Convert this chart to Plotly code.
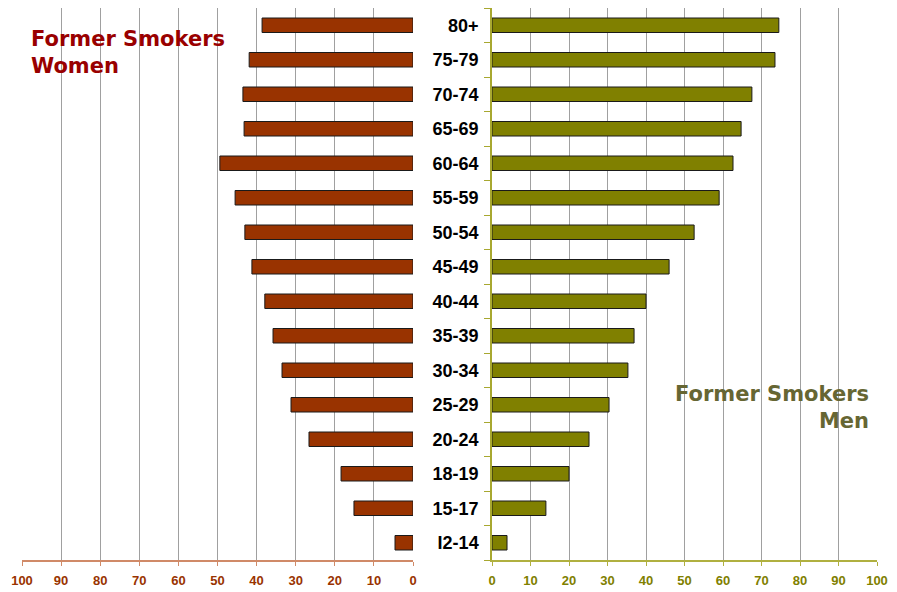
import plotly.graph_objects as go

age_groups = ["80+", "75-79", "70-74", "65-69", "60-64", "55-59", "50-54", "45-49",
              "40-44", "35-39", "30-34", "25-29", "20-24", "18-19", "15-17", "I2-14"]
women = [38.6, 41.9, 43.5, 43.2, 49.4, 45.5, 43.0, 41.2, 37.9, 35.8, 33.5, 31.2, 26.6, 18.4, 15.1, 4.6]
men = [74.5, 73.5, 67.5, 64.7, 62.6, 59.0, 52.5, 46.0, 40.0, 36.9, 35.3, 30.4, 25.2, 20.0, 14.0, 3.9]
x_ticks = [0, 10, 20, 30, 40, 50, 60, 70, 80, 90, 100]

# bottom-to-top order for plotly category axis
cats = age_groups[::-1]
w_vals = women[::-1]
m_vals = men[::-1]

W_COL = "#993300"
M_COL = "#808000"

fig = go.Figure()
fig.add_trace(go.Bar(y=cats, x=w_vals, orientation="h", xaxis="x", yaxis="y",
                     marker=dict(color=W_COL, line=dict(color="#1a1a1a", width=1)),
                     width=0.42, showlegend=False, hoverinfo="x+y"))
fig.add_trace(go.Bar(y=cats, x=m_vals, orientation="h", xaxis="x2", yaxis="y2",
                     marker=dict(color=M_COL, line=dict(color="#1a1a1a", width=1)),
                     width=0.42, showlegend=False, hoverinfo="x+y"))

W, H = 897, 592
ml, mr, mt, mb = 22, 20, 8, 32
pw = W - ml - mr
ph = H - mt - mb
left_end = (413 - ml) / pw
right_start = (492 - ml) / pw

tickfont_w = dict(family="Liberation Sans, Arial", size=13, color=W_COL)
tickfont_m = dict(family="Liberation Sans, Arial", size=13, color=M_COL)

fig.update_layout(
    width=W, height=H,
    margin=dict(l=ml, r=mr, t=mt, b=mb, autoexpand=False),
    paper_bgcolor="white", plot_bgcolor="white",
    bargap=0.5,
    xaxis=dict(domain=[0, left_end], range=[100, 0], anchor="y",
               tickvals=x_ticks, ticktext=[f"<b>{v}</b>" for v in x_ticks],
               tickfont=tickfont_w, showgrid=True, gridcolor="#a0a0a0", gridwidth=1,
               showline=True, linecolor="#d08a68", linewidth=1.5,
               ticks="outside", ticklen=4, tickcolor="#d08a68",
               ticklabelstandoff=4, zeroline=False, fixedrange=True, automargin=False),
    yaxis=dict(domain=[0, 1], anchor="x", type="category", categoryarray=cats,
               range=[-0.5, 15.5], showticklabels=False, showgrid=False,
               showline=False, zeroline=False, ticks="", automargin=False),
    xaxis2=dict(domain=[right_start, 1], range=[0, 100], anchor="y2",
                tickvals=x_ticks, ticktext=[f"<b>{v}</b>" for v in x_ticks],
                tickfont=tickfont_m, showgrid=True, gridcolor="#a0a0a0", gridwidth=1,
                showline=True, linecolor="#b0b040", linewidth=1.5,
                ticks="outside", ticklen=4, tickcolor="#b0b040",
                ticklabelstandoff=4, zeroline=False, fixedrange=True, automargin=False),
    yaxis2=dict(domain=[0, 1], anchor="x2", type="category", categoryarray=cats,
                range=[-0.5, 15.5], showgrid=False, showline=True,
                linecolor="#a8a830", linewidth=1.5,
                ticks="outside", ticklen=6, tickcolor="#a8a830", tickson="boundaries",
                ticktext=[f"<b>{c}</b>" for c in cats], tickvals=cats,
                tickfont=dict(family="Liberation Sans, Arial", size=18, color="black"),
                ticklabelstandoff=8, zeroline=False, automargin=False),
)

fig.add_annotation(xref="paper", yref="paper", x=(29 - ml) / pw, y=(560 - 52) / ph,
                   xanchor="left", yanchor="middle", align="left", showarrow=False,
                   text="<b>Former Smokers<br>Women</b>",
                   font=dict(family="DejaVu Sans", size=21, color="#990000"))
fig.add_annotation(xref="paper", yref="paper", x=(871 - ml) / pw, y=(560 - 407) / ph,
                   xanchor="right", yanchor="middle", align="right", showarrow=False,
                   text="<b>Former Smokers<br>Men</b>",
                   font=dict(family="DejaVu Sans", size=21, color="#666633"))

fig.write_html("out.html", config={"displayModeBar": False},
               post_script="document.body.style.margin='0';document.body.style.overflow='hidden';")
